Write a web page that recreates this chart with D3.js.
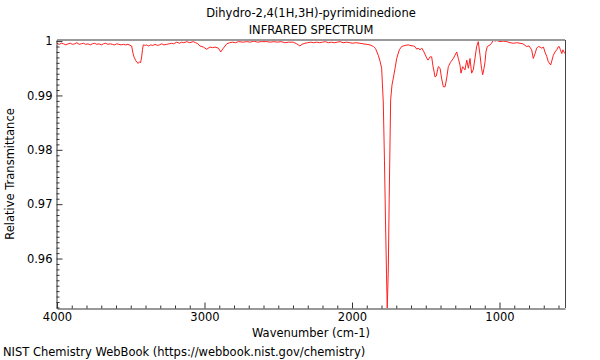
<!DOCTYPE html>
<html>
<head>
<meta charset="utf-8">
<script src="https://cdn.jsdelivr.net/npm/d3@7"></script>
<style>
  html, body { margin: 0; padding: 0; background: #fff; }
  svg { display: block; font-family: "DejaVu Sans", sans-serif; }
</style>
</head>
<body>
<svg id="chart" width="600" height="360"></svg>
<script>
const titleLines = ["Dihydro-2,4(1H,3H)-pyrimidinedione", "INFRARED SPECTRUM"];
const xLabel = "Wavenumber (cm-1)";
const yLabel = "Relative Transmittance";
const footer = "NIST Chemistry WebBook (https://webbook.nist.gov/chemistry)";

const xTicks = [4000, 3000, 2000, 1000];
const yTicks = [1, 0.99, 0.98, 0.97, 0.96];
const xDomain = [4000, 556];
const yDomain = [0.9509, 1.0002];

// wavenumber (cm-1)
const wavenumber = [
  4000, 3985, 3970, 3955, 3940, 3925, 3910, 3895, 3880, 3865, 3850, 3835, 3820, 3805, 3790, 3775,
  3760, 3745, 3730, 3715, 3700, 3685, 3670, 3655, 3640, 3625, 3610, 3595, 3580, 3565, 3550, 3535,
  3519, 3494, 3485, 3478, 3468, 3458, 3449, 3441, 3434, 3427, 3420, 3415,
  3400, 3392, 3380, 3365, 3350, 3335, 3320, 3305, 3290, 3275, 3256, 3240, 3225, 3210, 3188, 3170,
  3155, 3140, 3120, 3100, 3076, 3060, 3045, 3031, 3008, 2985, 2963, 2945, 2929, 2906, 2890, 2872,
  2849, 2830, 2810, 2790, 2770, 2737, 2715, 2690, 2665, 2640, 2615, 2578, 2555, 2530, 2505, 2480,
  2455, 2430, 2398, 2375, 2364, 2353, 2340, 2319, 2300, 2280, 2260, 2240, 2220, 2200, 2180, 2160,
  2140, 2120, 2100, 2080, 2060, 2036, 2015, 1995, 1975, 1946, 1925, 1900, 1878, 1855, 1840, 1822,
  1810, 1799, 1788, 1780, 1773, 1766, 1761, 1754, 1748, 1742, 1738, 1729, 1720, 1708, 1697, 1679,
  1663, 1641, 1618, 1607, 1584, 1573, 1561, 1552, 1539, 1527, 1512, 1494, 1485, 1471, 1460, 1451,
  1437, 1428, 1420, 1415, 1403, 1393, 1381, 1369, 1358, 1347, 1332, 1313, 1302, 1290, 1279, 1268,
  1261, 1250, 1234, 1222, 1211, 1200, 1189, 1178, 1166, 1155, 1144, 1132, 1122, 1114, 1105, 1098,
  1092, 1083, 1064, 1054, 1042, 1030, 1017, 997, 976, 951, 929, 906, 883, 861, 841, 816,
  800, 782, 771, 759, 748, 737, 725, 714, 702, 692, 680, 669, 653, 644, 635, 624,
  612, 603, 595, 587, 578, 570, 563, 556
];

// relative transmittance
const transmittance = [
  0.9996, 0.9994, 0.9996, 0.9995, 0.9993, 0.9995, 0.9996, 0.9994, 0.9995, 0.9997, 0.9994, 0.9995, 0.9996, 0.9994, 0.9995, 0.9993,
  0.9995, 0.9996, 0.9994, 0.9995, 0.9993, 0.9995, 0.9996, 0.9994, 0.9995, 0.9994, 0.9993, 0.9995, 0.9994, 0.9993, 0.9994, 0.9993,
  0.9994, 0.9991, 0.9978, 0.9971, 0.9965, 0.9961, 0.9959, 0.9962, 0.9960, 0.9969, 0.9985, 0.9993,
  0.9992, 0.9993, 0.9991, 0.9993, 0.9992, 0.9994, 0.9992, 0.9993, 0.9995, 0.9993, 0.9994, 0.9995, 0.9996, 0.9995, 0.9998, 0.9996,
  0.9998, 0.9997, 0.9999, 0.9997, 0.9999, 0.9997, 0.9995, 0.9991, 0.9989, 0.9985, 0.9989, 0.9988, 0.9989, 0.9987, 0.9980, 0.9987,
  0.9995, 0.9997, 0.9998, 0.9997, 0.9999, 0.9998, 0.9999, 0.9998, 1.0000, 0.9998, 0.9999, 0.9999, 0.9998, 0.9999, 0.9998, 0.9999,
  0.9997, 0.9998, 0.9998, 0.9995, 0.9993, 0.9991, 0.9994, 0.9996, 0.9997, 0.9998, 0.9997, 0.9998, 0.9997, 0.9998, 0.9999, 0.9997,
  0.9998, 0.9997, 0.9998, 0.9999, 0.9997, 0.9998, 0.9997, 0.9996, 0.9997, 0.9996, 0.9995, 0.9994, 0.9993, 0.9990, 0.9986, 0.9974,
  0.9963, 0.9950, 0.9888, 0.9781, 0.9671, 0.9570, 0.9509, 0.9579, 0.9708, 0.9818, 0.9892, 0.9919, 0.9932, 0.9950, 0.9968, 0.9984,
  0.9990, 0.9992, 0.9993, 0.9992, 0.9991, 0.9990, 0.9985, 0.9987, 0.9984, 0.9987, 0.9980, 0.9969, 0.9965, 0.9971, 0.9971, 0.9954,
  0.9934, 0.9936, 0.9947, 0.9953, 0.9950, 0.9932, 0.9916, 0.9916, 0.9932, 0.9953, 0.9961, 0.9968, 0.9974, 0.9980, 0.9968, 0.9956,
  0.9941, 0.9953, 0.9947, 0.9965, 0.9950, 0.9968, 0.9941, 0.9947, 0.9969, 0.9990, 0.9999, 0.9974, 0.9950, 0.9938, 0.9950, 0.9962,
  0.9980, 0.9990, 0.9993, 0.9996, 1.0002, 1.0000, 1.0001, 0.9999, 1.0000, 0.9999, 0.9997, 0.9996, 0.9997, 0.9996, 0.9995, 0.9990,
  0.9991, 0.9984, 0.9968, 0.9977, 0.9987, 0.9990, 0.9989, 0.9987, 0.9989, 0.9980, 0.9972, 0.9962, 0.9956, 0.9965, 0.9974, 0.9980,
  0.9984, 0.9989, 0.9990, 0.9984, 0.9977, 0.9984, 0.9980, 0.9977
];

const svg = d3.select("#chart");
const padL = 57, padR = 565, padT = 40, padB = 308;
const fs = 11.5;

const x = d3.scaleLinear().domain(xDomain).range([padL, padR]);
const y = d3.scaleLinear().domain(yDomain).range([padB, padT]);

const data = wavenumber.map((w, i) => ({ w, t: transmittance[i] }));

// titles
svg.append("g").selectAll("text").data(titleLines).join("text")
  .attr("x", (padL + padR) / 2)
  .attr("y", (d, i) => 17 + i * 17)
  .attr("text-anchor", "middle")
  .attr("font-size", fs)
  .attr("fill", "#000")
  .text(d => d);

// clip
svg.append("clipPath").attr("id", "plotclip")
  .append("rect").attr("x", padL).attr("y", padT).attr("width", padR - padL).attr("height", padB - padT);

// spectrum
svg.append("path")
  .datum(data)
  .attr("clip-path", "url(#plotclip)")
  .attr("fill", "none")
  .attr("stroke", "#ff2020")
  .attr("stroke-width", 1)
  .attr("stroke-linejoin", "round")
  .attr("d", d3.line().x(d => x(d.w)).y(d => y(d.t)));

// top border (gray) and right border
svg.append("line")
  .attr("x1", padL).attr("x2", padR).attr("y1", padT).attr("y2", padT)
  .attr("stroke", "#999").attr("stroke-width", 2);
svg.append("line")
  .attr("x1", padR + 0.5).attr("x2", padR + 0.5).attr("y1", padT).attr("y2", padB)
  .attr("stroke", "#444").attr("stroke-width", 1);

// minor ticks
const xMinor = d3.range(4000, 556, -100).filter(v => !xTicks.includes(v));
const yMinor = d3.range(0, 50).map(i => +(1 - i * 0.001).toFixed(3)).filter(v => v >= yDomain[0] && !yTicks.includes(v));

const gx = svg.append("g").attr("transform", `translate(0,${padB + 0.5})`);
gx.call(d3.axisBottom(x).tickValues(xMinor).tickSizeInner(-3).tickSizeOuter(0).tickFormat(""));
gx.call(g => g.selectAll("path").remove());
gx.selectAll(".tick line").attr("stroke", "#333");
const gx2 = svg.append("g").attr("transform", `translate(0,${padB + 0.5})`)
  .call(d3.axisBottom(x).tickValues(xTicks).tickSizeInner(-6).tickSizeOuter(0).tickPadding(4).tickFormat(d3.format("d")));
gx2.select(".domain").attr("stroke", "#333");
gx2.selectAll(".tick line").attr("stroke", "#333");
gx2.selectAll("text").attr("font-size", fs).attr("font-family", "DejaVu Sans, sans-serif").attr("fill", "#000");

const gy = svg.append("g").attr("transform", `translate(${padL - 0.5},0)`);
gy.call(d3.axisLeft(y).tickValues(yMinor).tickSizeInner(-3).tickSizeOuter(0).tickFormat(""));
gy.call(g => g.selectAll("path").remove());
gy.selectAll(".tick line").attr("stroke", "#333");
const gy2 = svg.append("g").attr("transform", `translate(${padL - 0.5},0)`)
  .call(d3.axisLeft(y).tickValues(yTicks).tickSizeInner(-6).tickSizeOuter(0).tickPadding(4).tickFormat(d => d3.format("")(d)));
gy2.select(".domain").attr("stroke", "#333");
gy2.selectAll(".tick line").attr("stroke", "#333");
gy2.selectAll("text").attr("font-size", fs).attr("font-family", "DejaVu Sans, sans-serif").attr("fill", "#000");

// axis labels
svg.append("text")
  .attr("x", (padL + padR) / 2).attr("y", 337)
  .attr("text-anchor", "middle").attr("font-size", fs).attr("fill", "#000")
  .text(xLabel);
svg.append("text")
  .attr("transform", `translate(14,${(padT + padB) / 2}) rotate(-90)`)
  .attr("text-anchor", "middle").attr("font-size", fs).attr("fill", "#000")
  .text(yLabel);

// footer
svg.append("text")
  .attr("x", 3).attr("y", 356)
  .attr("font-size", fs).attr("fill", "#000")
  .text(footer);
</script>
</body>
</html>
